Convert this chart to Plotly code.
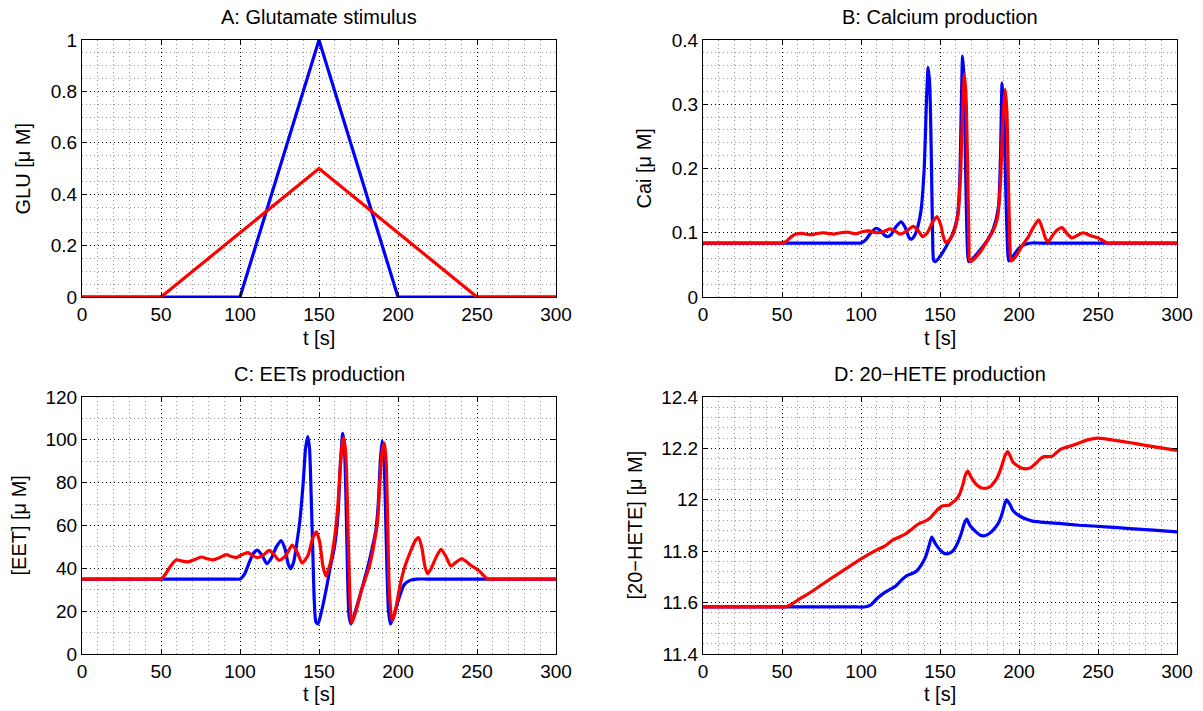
import plotly.graph_objects as go

# ---------------- data ----------------
t_ticks = [0, 50, 100, 150, 200, 250, 300]
t_ticklabels = ["0", "50", "100", "150", "200", "250", "300"]

# A: Glutamate stimulus
t_glu = [0, 50, 100, 150, 200, 250, 300]
glu_blue = [0, 0, 0, 1, 0, 0, 0]
glu_red = [0, 0, 0.25, 0.5, 0.25, 0, 0]
glu_ticks = [0, 0.2, 0.4, 0.6, 0.8, 1]
glu_ticklabels = ["0", "0.2", "0.4", "0.6", "0.8", "1"]

# B: Calcium production
t_ca_blue = [0, 40, 80, 95, 100, 103, 106, 109.5, 112, 115, 117, 119, 122,
             125.5, 128, 130.5, 132, 134, 136, 138, 140, 141.5, 142.5,
             143.5, 144.5, 145.3, 146, 147, 150, 154, 158, 161, 162.5,
             163.5, 164.3, 165.2, 166.2, 167.3, 168.2, 172, 176, 180, 184,
             187, 188.3, 189.3, 190.3, 191.5, 192.7, 193.5, 196, 200, 204,
             208, 213, 220, 260, 300]
ca_blue = [0.084, 0.084, 0.084, 0.084, 0.084, 0.089, 0.099, 0.107, 0.104, 0.096, 0.094, 0.097, 0.109,
           0.117, 0.108, 0.092, 0.090, 0.096, 0.110, 0.135, 0.20, 0.31, 0.357,
           0.33, 0.22, 0.10, 0.057, 0.055, 0.063, 0.079, 0.098, 0.125, 0.18,
           0.30, 0.375, 0.34, 0.20, 0.08, 0.055, 0.063, 0.075, 0.088, 0.108,
           0.14, 0.22, 0.333, 0.30, 0.18, 0.08, 0.056, 0.063, 0.076, 0.082,
           0.084, 0.084, 0.084, 0.084, 0.084]
t_ca_red = [0, 20, 40, 47, 50, 53, 56, 59, 63, 67, 71, 75.5, 79,
            83, 87, 91.5, 95, 98, 101.5, 105, 108, 111, 114.5,
            118.3, 121.5, 124.5, 128, 133, 136, 139, 142, 145, 148,
            150.5, 152, 153.5, 156, 159, 161.5, 163, 164.5, 165.5, 166.5,
            167.5, 168.3, 169, 172, 176, 180, 184, 186.5, 188.3, 189.7,
            191.2, 192.3, 193.3, 194.3, 195, 198, 202, 206, 209, 212.5,
            215, 217, 218.5, 221, 224, 227.2, 230, 233.5, 237, 240.5,
            243, 246, 250, 253, 256, 260, 270, 300]
ca_red = [0.084, 0.084, 0.084, 0.084, 0.084, 0.087, 0.094, 0.098, 0.099, 0.097, 0.098, 0.100, 0.099,
          0.098, 0.100, 0.101, 0.099, 0.099, 0.102, 0.103, 0.101, 0.100, 0.102,
          0.106, 0.103, 0.098, 0.101, 0.110, 0.104, 0.094, 0.100, 0.115, 0.125,
          0.112, 0.095, 0.085, 0.089, 0.103, 0.13, 0.19, 0.30, 0.347, 0.31,
          0.20, 0.09, 0.055, 0.060, 0.072, 0.088, 0.105, 0.125, 0.18, 0.27,
          0.323, 0.29, 0.18, 0.08, 0.056, 0.063, 0.080, 0.094, 0.108, 0.120,
          0.105, 0.090, 0.086, 0.095, 0.104, 0.108, 0.100, 0.092, 0.096, 0.100,
          0.098, 0.095, 0.092, 0.088, 0.084, 0.084, 0.084, 0.084]
ca_ticks = [0, 0.1, 0.2, 0.3, 0.4]
ca_ticklabels = ["0", "0.1", "0.2", "0.3", "0.4"]

# C: EETs production
t_eet_blue = [0, 40, 80, 95, 100, 103, 106, 108.5, 111, 114, 117, 120, 123,
              126, 128.5, 130.5, 132, 134, 136, 138, 140, 141.5, 142.9,
              144, 145, 146, 147, 148, 149.3, 151, 154.5, 157, 159.8,
              162, 163.5, 165, 166, 167, 168, 169, 170.3, 173, 177.7,
              182, 186, 187.5, 188.8, 189.9, 191, 192, 193, 194, 195.2,
              197, 199, 201.5, 204, 208, 212, 218, 250, 300]
eet_blue = [35, 35, 35, 35, 35, 37.5, 43, 47, 48.5, 46, 42.2, 45, 50,
            53, 49, 42, 39.8, 43, 52, 63, 80, 96, 101.5,
            96, 75, 50, 25, 15, 14, 18, 30, 40, 50,
            65, 88, 103, 98, 75, 40, 18, 14, 20, 32,
            44, 58, 70, 90, 99.5, 94, 70, 40, 20, 14,
            17, 22, 28, 32.5, 34.5, 35, 35, 35, 35]
t_eet_red = [0, 20, 40, 47, 50, 53, 56, 59.8, 63, 67.2, 71, 75.6, 79,
             83, 87, 91.4, 94.5, 97.7, 101.5, 105, 108, 111, 114.5,
             118.5, 121.5, 124.8, 129, 133, 136.5, 139.3, 143, 146, 148.4,
             150.5, 152.5, 154.3, 157, 160, 162, 163.5, 164.7, 165.7, 167,
             168, 169, 170.7, 173, 177, 181.9, 185, 187.2, 188.5, 190,
             191.4, 192.5, 193.5, 194.5, 196.2, 198, 201, 204, 208, 211,
             213, 215, 217, 218.7, 221, 224, 227.2, 230, 233.5, 237,
             240.4, 243, 246, 250, 252.5, 255, 257, 260, 270, 300]
eet_red = [35, 35, 35, 35, 35, 37.5, 41, 44, 43.5, 43, 44, 45.3, 44.5,
           44, 45, 46.4, 45.5, 45, 46.5, 47.3, 46, 45, 46,
           48.4, 46.5, 43.7, 46, 50.8, 47, 42.5, 46, 54, 57,
           52, 41, 36.5, 42, 55, 70, 88, 98, 101, 93,
           70, 40, 14.5, 19, 30, 41, 52, 63, 80, 95,
           98.5, 90, 60, 30, 15.5, 19, 31, 40, 48, 53,
           54.4, 50, 41, 37.5, 40, 45, 48.9, 46, 41.1, 43,
           44.5, 43.3, 41.4, 39.5, 38, 36, 35, 35, 35, 35]
eet_ticks = [0, 20, 40, 60, 80, 100, 120]
eet_ticklabels = ["0", "20", "40", "60", "80", "100", "120"]

# D: 20-HETE production
t_hete_blue = [0, 40, 80, 97, 102, 106, 110, 114, 118, 122, 126, 129, 132,
               135, 138, 141, 143, 144.8, 147, 150, 152.5, 155, 158,
               161, 163.5, 165.5, 166.9, 169, 172.8, 175.5, 178.1, 181, 184,
               187, 189.5, 191, 192.2, 194, 196, 198.1, 201, 204.4, 208,
               212.8, 225, 238, 255, 270, 285, 300]
hete_blue = [11.583, 11.583, 11.583, 11.583, 11.583, 11.59, 11.615, 11.635, 11.65, 11.665, 11.69, 11.705, 11.712,
             11.722, 11.745, 11.78, 11.82, 11.855, 11.83, 11.805, 11.792, 11.79, 11.8,
             11.83, 11.87, 11.91, 11.925, 11.9, 11.875, 11.862, 11.86, 11.868, 11.885,
             11.91, 11.95, 11.985, 12.0, 11.985, 11.96, 11.947, 11.935, 11.925, 11.918,
             11.914, 11.908, 11.901, 11.895, 11.888, 11.882, 11.875]
t_hete_red = [0, 20, 40, 48, 52, 55, 60, 65, 70, 80, 90, 100, 110,
              115, 120, 125, 128.6, 132, 135, 137, 140, 143.4, 146,
              149, 151.8, 154, 156, 158, 160, 162.3, 164.5, 166, 167.6,
              169.5, 172.9, 176, 179.2, 182, 184.5, 186.5, 189, 191, 192.8,
              194.5, 196, 198.1, 201, 204.4, 207.5, 210.7, 213.5, 216, 219,
              221.2, 224, 226.5, 229.7, 233, 236, 240, 244, 249.7, 255,
              262, 269.7, 280, 290, 300]
hete_red = [11.583, 11.583, 11.583, 11.583, 11.583, 11.59, 11.61, 11.628, 11.648, 11.69, 11.73, 11.77, 11.805,
            11.82, 11.843, 11.857, 11.869, 11.885, 11.9, 11.908, 11.915, 11.927, 11.945,
            11.965, 11.977, 11.978, 11.98, 11.99, 12.0, 12.02, 12.06, 12.095, 12.112,
            12.09, 12.06, 12.047, 12.045, 12.052, 12.07, 12.09, 12.13, 12.17, 12.188,
            12.17, 12.148, 12.136, 12.125, 12.12, 12.125, 12.142, 12.16, 12.168, 12.168,
            12.17, 12.185, 12.197, 12.204, 12.21, 12.216, 12.226, 12.234, 12.24, 12.237,
            12.23, 12.223, 12.212, 12.202, 12.192]
hete_ticks = [11.4, 11.6, 11.8, 12.0, 12.2, 12.4]
hete_ticklabels = ["11.4", "11.6", "11.8", "12", "12.2", "12.4"]

titles = ["A: Glutamate stimulus", "B: Calcium production",
          "C: EETs production", "D: 20\u2212HETE production"]
ylabels = ["GLU [\u03bc M]", "Cai [\u03bc M]", "[EET] [\u03bc M]",
           "[20\u2212HETE] [\u03bc M]"]
xlabel = "t [s]"

BLUE = "#0000ff"
RED = "#ff0000"
FONT = "Liberation Sans, Arial, Helvetica, sans-serif"
W, H = 1203, 711
TICK_SIZE = 19
TEXT_SIZE = 20

# ---------------- layout geometry (pixels) ----------------
xdom_left = [82 / W, 556 / W]
xdom_right = [703 / W, 1177 / W]
ydom_top = [1 - 297 / H, 1 - 40 / H]
ydom_bot = [1 - 654 / H, 1 - 397 / H]

fig = go.Figure()

panels = [
    (t_glu, glu_blue, t_glu, glu_red, 1),
    (t_ca_blue, ca_blue, t_ca_red, ca_red, 2),
    (t_eet_blue, eet_blue, t_eet_red, eet_red, 3),
    (t_hete_blue, hete_blue, t_hete_red, hete_red, 4),
]
for tb, yb, tr, yr, k in panels:
    xa = "x" if k == 1 else f"x{k}"
    ya = "y" if k == 1 else f"y{k}"
    shape = "linear" if k == 1 else "spline"
    fig.add_trace(go.Scatter(x=tb, y=yb, mode="lines", xaxis=xa, yaxis=ya,
                             line=dict(color=BLUE, width=3.2, shape=shape, smoothing=0.6),
                             showlegend=False, hoverinfo="skip"))
    fig.add_trace(go.Scatter(x=tr, y=yr, mode="lines", xaxis=xa, yaxis=ya,
                             line=dict(color=RED, width=3.2, shape=shape, smoothing=0.6),
                             showlegend=False, hoverinfo="skip"))

DOT = "1px,3px"


def xaxis(domain, anchor):
    return dict(domain=domain, anchor=anchor, range=[0, 300],
                tickmode="array", tickvals=t_ticks, ticktext=t_ticklabels,
                ticks="inside", ticklen=5, tickwidth=1, tickcolor="black",
                showline=True, linecolor="black", linewidth=1, mirror="ticks",
                showgrid=True, gridcolor="black", gridwidth=1, griddash=DOT,
                minor=dict(tick0=0, dtick=10, showgrid=True, gridcolor="#9a9a9a",
                           gridwidth=1, griddash=DOT, ticks=""),
                zeroline=False, automargin=False,
                tickfont=dict(family=FONT, size=TICK_SIZE, color="black"))


def yaxis(domain, anchor, rng, tv, tt, mdt):
    return dict(domain=domain, anchor=anchor, range=rng,
                tickmode="array", tickvals=tv, ticktext=tt,
                ticks="inside", ticklen=5, tickwidth=1, tickcolor="black",
                showline=True, linecolor="black", linewidth=1, mirror="ticks",
                showgrid=True, gridcolor="black", gridwidth=1, griddash=DOT,
                minor=dict(tick0=rng[0], dtick=mdt, showgrid=True, gridcolor="#9a9a9a",
                           gridwidth=1, griddash=DOT, ticks=""),
                zeroline=False, automargin=False,
                tickfont=dict(family=FONT, size=TICK_SIZE, color="black"))


fig.update_layout(
    width=W, height=H,
    margin=dict(l=0, r=0, t=0, b=0),
    paper_bgcolor="white", plot_bgcolor="white",
    showlegend=False,
    font=dict(family=FONT, size=TEXT_SIZE, color="black"),
    xaxis=xaxis(xdom_left, "y"),
    yaxis=yaxis(ydom_top, "x", [0, 1], glu_ticks, glu_ticklabels, 0.05),
    xaxis2=xaxis(xdom_right, "y2"),
    yaxis2=yaxis(ydom_top, "x2", [0, 0.4], ca_ticks, ca_ticklabels, 0.02),
    xaxis3=xaxis(xdom_left, "y3"),
    yaxis3=yaxis(ydom_bot, "x3", [0, 120], eet_ticks, eet_ticklabels, 10),
    xaxis4=xaxis(xdom_right, "y4"),
    yaxis4=yaxis(ydom_bot, "x4", [11.4, 12.4], hete_ticks, hete_ticklabels, 0.04),
)

# titles and axis labels as annotations
centers_x = [(xdom_left[0] + xdom_left[1]) / 2, (xdom_right[0] + xdom_right[1]) / 2]
title_y = [1 - 17 / H, 1 - 374 / H]
xlabel_y = [1 - 338 / H, 1 - 694 / H]
ylabel_x = [22 / W, 643 / W, 18 / W, 634 / W]
ylabel_y = [(ydom_top[0] + ydom_top[1]) / 2, (ydom_bot[0] + ydom_bot[1]) / 2]

ann = []
for k in range(4):
    col = k % 2
    row = k // 2
    ann.append(dict(text=titles[k], x=centers_x[col], y=title_y[row], xref="paper", yref="paper",
                    showarrow=False, xanchor="center", yanchor="middle",
                    font=dict(family=FONT, size=TEXT_SIZE, color="black")))
    ann.append(dict(text=xlabel, x=centers_x[col], y=xlabel_y[row], xref="paper", yref="paper",
                    showarrow=False, xanchor="center", yanchor="middle",
                    font=dict(family=FONT, size=TEXT_SIZE, color="black")))
    ann.append(dict(text=ylabels[k], x=ylabel_x[k], y=ylabel_y[row], xref="paper", yref="paper",
                    showarrow=False, xanchor="center", yanchor="middle", textangle=-90,
                    font=dict(family=FONT, size=TEXT_SIZE, color="black")))
fig.update_layout(annotations=ann)

fig.write_html("out.html", config={"displayModeBar": False},
               post_script="document.body.style.margin='0';document.body.style.overflow='hidden';")
